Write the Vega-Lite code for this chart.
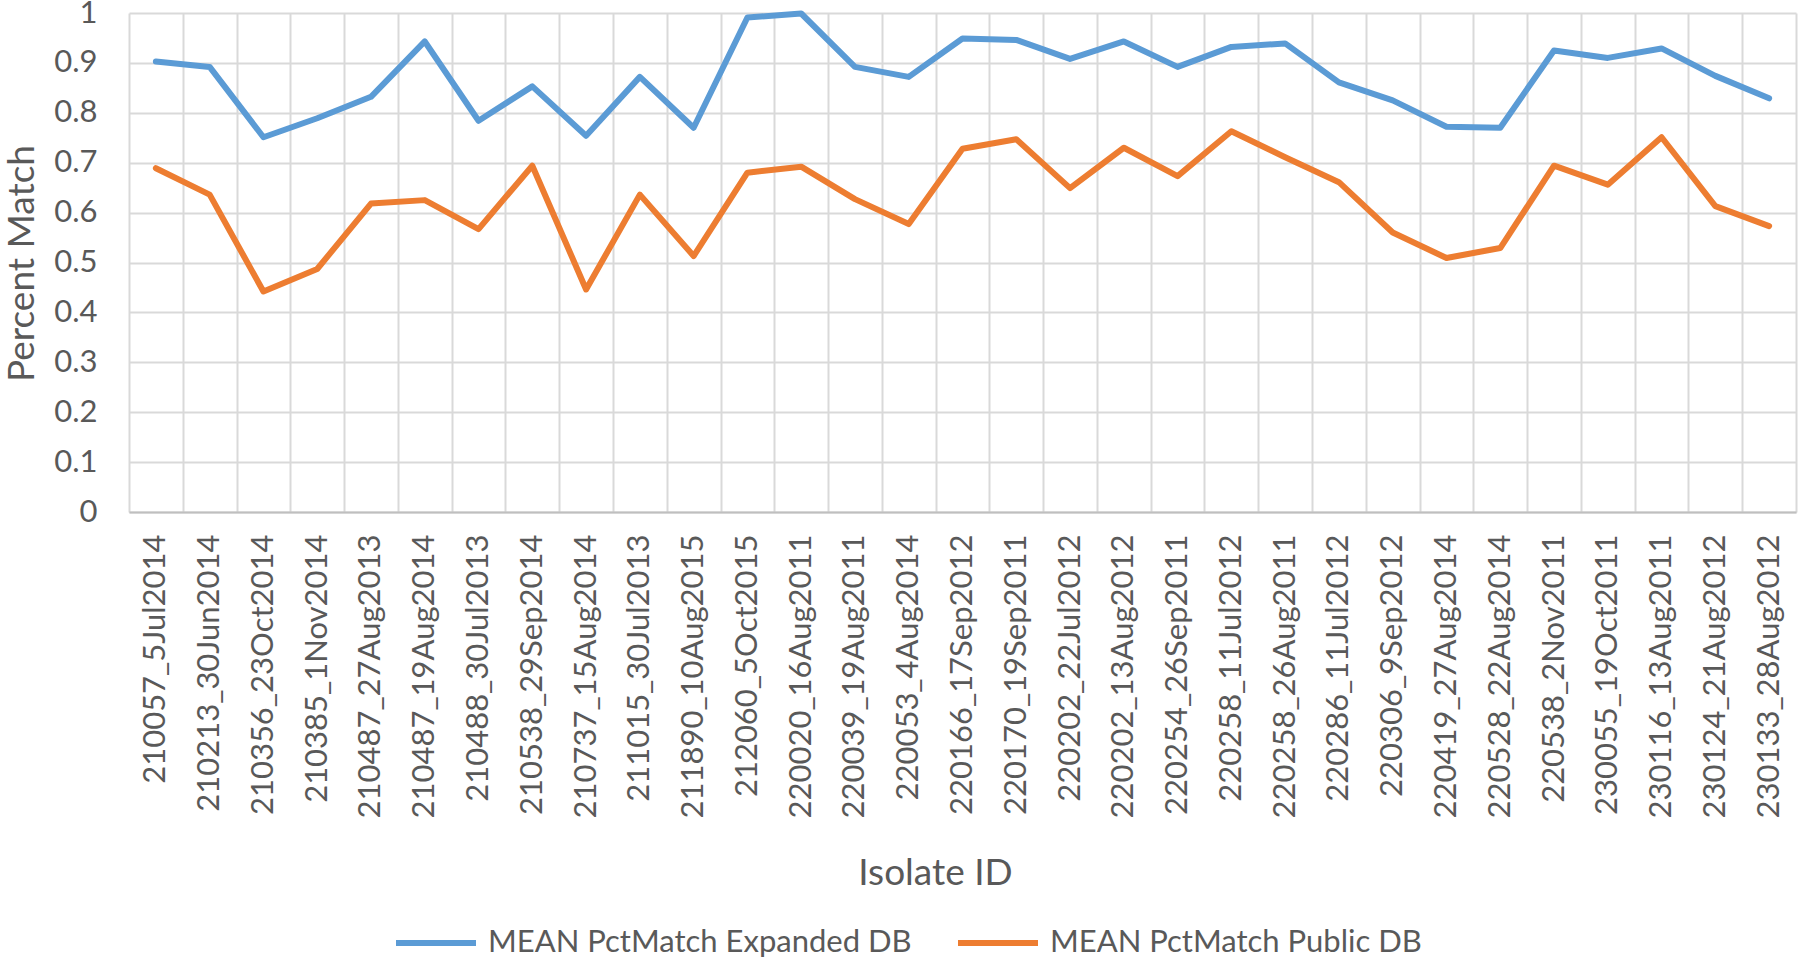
{
  "$schema": "https://vega.github.io/schema/vega-lite/v6.json",
  "autosize": {"type": "none"},
  "width": 1667,
  "height": 499,
  "padding": {"left": 129, "top": 13, "right": 4, "bottom": 448},
  "background": "white",
  "config": {
    "font": "Lato",
    "view": {"stroke": null}
  },
  "data": {
    "values": [
      {"isolate": "210057_5Jul2014", "series": "MEAN PctMatch Expanded DB", "value": 0.903},
      {"isolate": "210213_30Jun2014", "series": "MEAN PctMatch Expanded DB", "value": 0.892},
      {"isolate": "210356_23Oct2014", "series": "MEAN PctMatch Expanded DB", "value": 0.751},
      {"isolate": "210385_1Nov2014", "series": "MEAN PctMatch Expanded DB", "value": 0.789},
      {"isolate": "210487_27Aug2013", "series": "MEAN PctMatch Expanded DB", "value": 0.832},
      {"isolate": "210487_19Aug2014", "series": "MEAN PctMatch Expanded DB", "value": 0.943},
      {"isolate": "210488_30Jul2013", "series": "MEAN PctMatch Expanded DB", "value": 0.784},
      {"isolate": "210538_29Sep2014", "series": "MEAN PctMatch Expanded DB", "value": 0.853},
      {"isolate": "210737_15Aug2014", "series": "MEAN PctMatch Expanded DB", "value": 0.754},
      {"isolate": "211015_30Jul2013", "series": "MEAN PctMatch Expanded DB", "value": 0.872},
      {"isolate": "211890_10Aug2015", "series": "MEAN PctMatch Expanded DB", "value": 0.770},
      {"isolate": "212060_5Oct2015", "series": "MEAN PctMatch Expanded DB", "value": 0.991},
      {"isolate": "220020_16Aug2011", "series": "MEAN PctMatch Expanded DB", "value": 0.999},
      {"isolate": "220039_19Aug2011", "series": "MEAN PctMatch Expanded DB", "value": 0.892},
      {"isolate": "220053_4Aug2014", "series": "MEAN PctMatch Expanded DB", "value": 0.872},
      {"isolate": "220166_17Sep2012", "series": "MEAN PctMatch Expanded DB", "value": 0.949},
      {"isolate": "220170_19Sep2011", "series": "MEAN PctMatch Expanded DB", "value": 0.946},
      {"isolate": "220202_22Jul2012", "series": "MEAN PctMatch Expanded DB", "value": 0.908},
      {"isolate": "220202_13Aug2012", "series": "MEAN PctMatch Expanded DB", "value": 0.943},
      {"isolate": "220254_26Sep2011", "series": "MEAN PctMatch Expanded DB", "value": 0.892},
      {"isolate": "220258_11Jul2012", "series": "MEAN PctMatch Expanded DB", "value": 0.932},
      {"isolate": "220258_26Aug2011", "series": "MEAN PctMatch Expanded DB", "value": 0.939},
      {"isolate": "220286_11Jul2012", "series": "MEAN PctMatch Expanded DB", "value": 0.861},
      {"isolate": "220306_9Sep2012", "series": "MEAN PctMatch Expanded DB", "value": 0.825},
      {"isolate": "220419_27Aug2014", "series": "MEAN PctMatch Expanded DB", "value": 0.772},
      {"isolate": "220528_22Aug2014", "series": "MEAN PctMatch Expanded DB", "value": 0.770},
      {"isolate": "220538_2Nov2011", "series": "MEAN PctMatch Expanded DB", "value": 0.925},
      {"isolate": "230055_19Oct2011", "series": "MEAN PctMatch Expanded DB", "value": 0.910},
      {"isolate": "230116_13Aug2011", "series": "MEAN PctMatch Expanded DB", "value": 0.929},
      {"isolate": "230124_21Aug2012", "series": "MEAN PctMatch Expanded DB", "value": 0.874},
      {"isolate": "230133_28Aug2012", "series": "MEAN PctMatch Expanded DB", "value": 0.829},
      {"isolate": "210057_5Jul2014", "series": "MEAN PctMatch Public DB", "value": 0.689},
      {"isolate": "210213_30Jun2014", "series": "MEAN PctMatch Public DB", "value": 0.636},
      {"isolate": "210356_23Oct2014", "series": "MEAN PctMatch Public DB", "value": 0.442},
      {"isolate": "210385_1Nov2014", "series": "MEAN PctMatch Public DB", "value": 0.487},
      {"isolate": "210487_27Aug2013", "series": "MEAN PctMatch Public DB", "value": 0.618},
      {"isolate": "210487_19Aug2014", "series": "MEAN PctMatch Public DB", "value": 0.625},
      {"isolate": "210488_30Jul2013", "series": "MEAN PctMatch Public DB", "value": 0.567},
      {"isolate": "210538_29Sep2014", "series": "MEAN PctMatch Public DB", "value": 0.694},
      {"isolate": "210737_15Aug2014", "series": "MEAN PctMatch Public DB", "value": 0.446},
      {"isolate": "211015_30Jul2013", "series": "MEAN PctMatch Public DB", "value": 0.636},
      {"isolate": "211890_10Aug2015", "series": "MEAN PctMatch Public DB", "value": 0.513},
      {"isolate": "212060_5Oct2015", "series": "MEAN PctMatch Public DB", "value": 0.680},
      {"isolate": "220020_16Aug2011", "series": "MEAN PctMatch Public DB", "value": 0.692},
      {"isolate": "220039_19Aug2011", "series": "MEAN PctMatch Public DB", "value": 0.627},
      {"isolate": "220053_4Aug2014", "series": "MEAN PctMatch Public DB", "value": 0.577},
      {"isolate": "220166_17Sep2012", "series": "MEAN PctMatch Public DB", "value": 0.728},
      {"isolate": "220170_19Sep2011", "series": "MEAN PctMatch Public DB", "value": 0.747},
      {"isolate": "220202_22Jul2012", "series": "MEAN PctMatch Public DB", "value": 0.649},
      {"isolate": "220202_13Aug2012", "series": "MEAN PctMatch Public DB", "value": 0.730},
      {"isolate": "220254_26Sep2011", "series": "MEAN PctMatch Public DB", "value": 0.673},
      {"isolate": "220258_11Jul2012", "series": "MEAN PctMatch Public DB", "value": 0.763},
      {"isolate": "220258_26Aug2011", "series": "MEAN PctMatch Public DB", "value": 0.711},
      {"isolate": "220286_11Jul2012", "series": "MEAN PctMatch Public DB", "value": 0.661},
      {"isolate": "220306_9Sep2012", "series": "MEAN PctMatch Public DB", "value": 0.560},
      {"isolate": "220419_27Aug2014", "series": "MEAN PctMatch Public DB", "value": 0.509},
      {"isolate": "220528_22Aug2014", "series": "MEAN PctMatch Public DB", "value": 0.529},
      {"isolate": "220538_2Nov2011", "series": "MEAN PctMatch Public DB", "value": 0.694},
      {"isolate": "230055_19Oct2011", "series": "MEAN PctMatch Public DB", "value": 0.656},
      {"isolate": "230116_13Aug2011", "series": "MEAN PctMatch Public DB", "value": 0.751},
      {"isolate": "230124_21Aug2012", "series": "MEAN PctMatch Public DB", "value": 0.613},
      {"isolate": "230133_28Aug2012", "series": "MEAN PctMatch Public DB", "value": 0.573}
    ]
  },
  "mark": {"type": "line", "strokeWidth": 6, "strokeCap": "round", "strokeJoin": "round"},
  "encoding": {
    "x": {
      "field": "isolate",
      "type": "nominal",
      "sort": null,
      "bandPosition": 0.5,
      "scale": {"type": "band", "paddingInner": 0, "paddingOuter": 0},
      "axis": {
        "title": "Isolate ID",
        "tickBand": "extent",
        "grid": true,
        "gridColor": "#D9D9D9",
        "gridWidth": 2,
        "ticks": false,
        "domainColor": "#BFBFBF",
        "domainWidth": 2,
        "labelAngle": 270,
        "labelAlign": "right",
        "labelBaseline": "middle",
        "labelPadding": 22,
        "labelFontSize": 31,
        "labelColor": "#595959",
        "labelLimit": 0,
        "labelOverlap": false,
        "titleFontSize": 37,
        "titleFontWeight": "normal",
        "titleColor": "#595959",
        "titleX": 806,
        "titleY": 361,
        "titleAlign": "center",
        "titleBaseline": "middle"
      }
    },
    "y": {
      "field": "value",
      "type": "quantitative",
      "scale": {"domain": [0, 1], "nice": false, "zero": true},
      "axis": {
        "title": "Percent Match",
        "values": [0, 0.1, 0.2, 0.3, 0.4, 0.5, 0.6, 0.7, 0.8, 0.9, 1],
        "format": "~g",
        "grid": true,
        "gridColor": "#D9D9D9",
        "gridWidth": 2,
        "ticks": false,
        "domain": false,
        "labelPadding": 32,
        "labelFontSize": 31,
        "labelColor": "#595959",
        "titleFontSize": 37,
        "titleFontWeight": "normal",
        "titleColor": "#595959",
        "titleAngle": 270,
        "titleX": -107,
        "titleY": 250,
        "titleAlign": "center",
        "titleBaseline": "middle"
      }
    },
    "color": {
      "field": "series",
      "type": "nominal",
      "scale": {"domain": ["MEAN PctMatch Expanded DB", "MEAN PctMatch Public DB"], "range": ["#5B9BD5", "#ED7D31"]},
      "legend": {
        "title": null,
        "orient": "none",
        "direction": "horizontal",
        "legendX": 264,
        "legendY": 887,
        "padding": 0,
        "symbolType": "stroke",
        "symbolSize": 6400,
        "symbolStrokeWidth": 6,
        "labelFontSize": 31,
        "labelColor": "#595959",
        "labelOffset": 9,
        "labelLimit": 0,
        "columnPadding": 34
      }
    }
  }
}
